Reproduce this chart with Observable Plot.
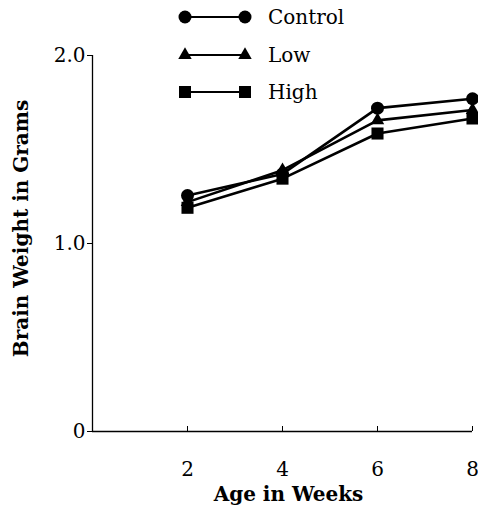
<!DOCTYPE html>
<html><head><meta charset="utf-8">
<script src="https://cdn.jsdelivr.net/npm/d3@7"></script>
<script src="https://cdn.jsdelivr.net/npm/@observablehq/plot@0.6"></script>
<style>
body{margin:0;background:#fff}
#chart{position:relative;width:478px;height:505px;overflow:hidden}
#chart > svg{font-family:"DejaVu Serif"}
g[aria-label="y-axis label"] text, g[aria-label="x-axis label"] text{font-weight:bold;font-size:20px}
.legend{position:absolute;left:178px;top:0}
.row{position:absolute;left:0;height:24px;display:flex;align-items:center;font-family:"DejaVu Serif";font-size:20px;white-space:nowrap;color:#000}
.row span{margin-left:16px;line-height:24px}
</style>
</head><body>
<div id="chart"></div>
<script>
// ---- data ----
const weeks = [2, 4, 6, 8];
const seriesNames = ["Control", "Low", "High"];
const control = [1.255, 1.37, 1.72, 1.77];
const low = [1.22, 1.39, 1.655, 1.71];
const high = [1.19, 1.345, 1.585, 1.665];
const xTicks = [2, 4, 6, 8];
const yTicks = [0, 1, 2];
const yTickLabels = ["0", "1.0", "2.0"];

const values = {Control: control, Low: low, High: high};
const rows = [];
for (const s of seriesNames) weeks.forEach((w, j) => rows.push({series: s, week: w, value: values[s][j]}));

const symbolMap = {Control: "circle", Low: "triangle", High: "square"};
const symbolR = {Control: 6.5, Low: 5, High: 6.8};

const plot = Plot.plot({
  width: 478, height: 505,
  marginLeft: 92, marginRight: 6, marginTop: 55, marginBottom: 74,
  style: {fontFamily: "DejaVu Serif", fontSize: "20px", color: "#000", background: "#fff"},
  x: {domain: [0, 8]},
  y: {domain: [0, 2]},
  marks: [
    Plot.axisY({ticks: yTicks, tickFormat: d => yTickLabels[yTicks.indexOf(d)], tickSize: 5, tickPadding: 2,
      label: "Brain Weight in Grams", labelAnchor: "center", labelOffset: 79, labelArrow: "none"}),
    Plot.axisX({ticks: xTicks, tickSize: -5, tickPadding: 35,
      label: "Age in Weeks", labelAnchor: "center", labelOffset: 69, labelArrow: "none"}),
    Plot.ruleX([0], {stroke: "#000", strokeWidth: 1.3}),
    Plot.ruleY([0], {stroke: "#000", strokeWidth: 1.3}),
    Plot.line(rows, {x: "week", y: "value", z: "series", stroke: "#000", strokeWidth: 2.6}),
    ...seriesNames.map(s => Plot.dot(rows.filter(d => d.series === s),
      {x: "week", y: "value", symbol: () => symbolMap[s], fill: "#000", r: symbolR[s]}))
  ],
  symbol: {type: "identity"}
});
document.getElementById("chart").appendChild(plot);
// nudge axis titles to match the reference placement (keeping Plot's own transform)
function nudge(sel, dx, dy) {
  const g = d3.select(plot).select(sel);
  if (g.empty()) return;
  const t = g.attr("transform") || "";
  g.attr("transform", `translate(${dx},${dy}) ${t}`);
}
nudge('g[aria-label="y-axis label"]', 0, -15);
nudge('g[aria-label="x-axis label"]', 6, 0);

// ---- legend ----
const legend = d3.select("#chart").append("div").attr("class", "legend");
const d3sym = {circle: d3.symbolCircle, triangle: d3.symbolTriangle, square: d3.symbolSquare};
seriesNames.forEach((s, i) => {
  const row = legend.append("div").attr("class", "row").style("top", `${5 + i * 37.5}px`);
  const svg = row.append("svg").attr("width", 74).attr("height", 24);
  svg.append("line").attr("x1", 7).attr("x2", 67).attr("y1", 12).attr("y2", 12)
    .attr("stroke", "#000").attr("stroke-width", 1.8);
  const path = d3.symbol().type(d3sym[symbolMap[s]]).size(Math.PI * symbolR[s] ** 2)();
  [7, 67].forEach(cx => svg.append("path").attr("d", path).attr("transform", `translate(${cx},12)`).attr("fill", "#000"));
  row.append("span").text(s);
});
</script>
</body></html>
